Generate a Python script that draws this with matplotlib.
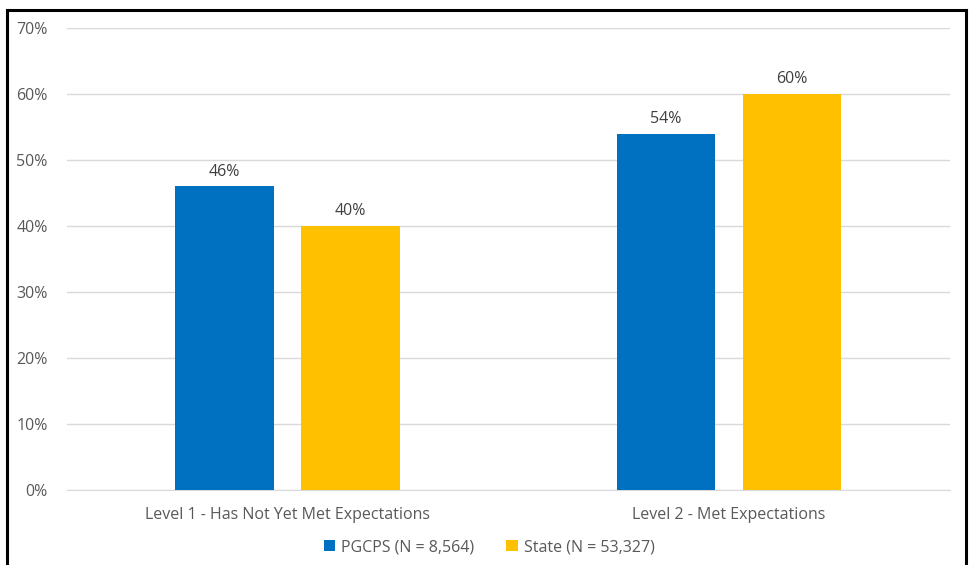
import matplotlib.pyplot as plt
import numpy as np

categories = ['Level 1 - Has Not Yet Met Expectations', 'Level 2 - Met Expectations']
series_names = ['PGCPS (N = 8,564)', 'State (N = 53,327)']
pgcps = [0.46, 0.54]
state = [0.40, 0.60]
colors = ['#0070C0', '#FFC000']

plt.rcParams['font.family'] = ['Open Sans', 'DejaVu Sans']
text_color = '#595959'

fig = plt.figure(figsize=[9.69, 5.65], dpi=100)
ax = fig.add_axes([0.0691, 0.1327, 0.911, 0.8177])

x = np.arange(len(categories))
width = 0.224
offset = 0.1427
for vals, name, color, sign in [(pgcps, series_names[0], colors[0], -1),
                                (state, series_names[1], colors[1], 1)]:
    bars = ax.bar(x + sign * offset, vals, width=width, color=color, label=name, zorder=3)
    for b, v in zip(bars, vals):
        ax.text(b.get_x() + b.get_width() / 2, v + 0.010, f'{v:.0%}',
                ha='center', va='bottom', fontsize=11.5, color='#404040')

ax.set_xlim(-0.5, 1.5)
ax.set_ylim(0, 0.70)
ax.set_yticks(np.arange(0, 0.71, 0.1))
ax.set_yticklabels([f'{t:.0%}' for t in np.arange(0, 0.71, 0.1)])
ax.set_xticks(x)
ax.set_xticklabels(categories)
ax.tick_params(axis='both', length=0, labelsize=11.5, labelcolor=text_color)
ax.tick_params(axis='y', pad=14)
ax.tick_params(axis='x', pad=12)
ax.grid(axis='y', color='#D9D9D9', linewidth=1, zorder=0)
for s in ['top', 'right', 'left']:
    ax.spines[s].set_visible(False)
ax.spines['bottom'].set_color('#D9D9D9')

leg = fig.legend(loc='center', bbox_to_anchor=(0.505, 0.031), ncol=2, frameon=False,
                 fontsize=11.5, handlelength=0.7, handleheight=0.7, columnspacing=2.0,
                 handletextpad=0.4)
for t in leg.get_texts():
    t.set_color(text_color)

# outer frame
fig.add_artist(plt.Line2D([0.0072, 0.0072], [0, 0.9823], color='black', lw=2.2, transform=fig.transFigure))
fig.add_artist(plt.Line2D([0.0072, 0.997], [0.9823, 0.9823], color='black', lw=2.2, transform=fig.transFigure))
fig.add_artist(plt.Line2D([0.997, 0.997], [0, 0.9823], color='black', lw=2.2, transform=fig.transFigure))

fig.savefig('out.png', dpi=100)
